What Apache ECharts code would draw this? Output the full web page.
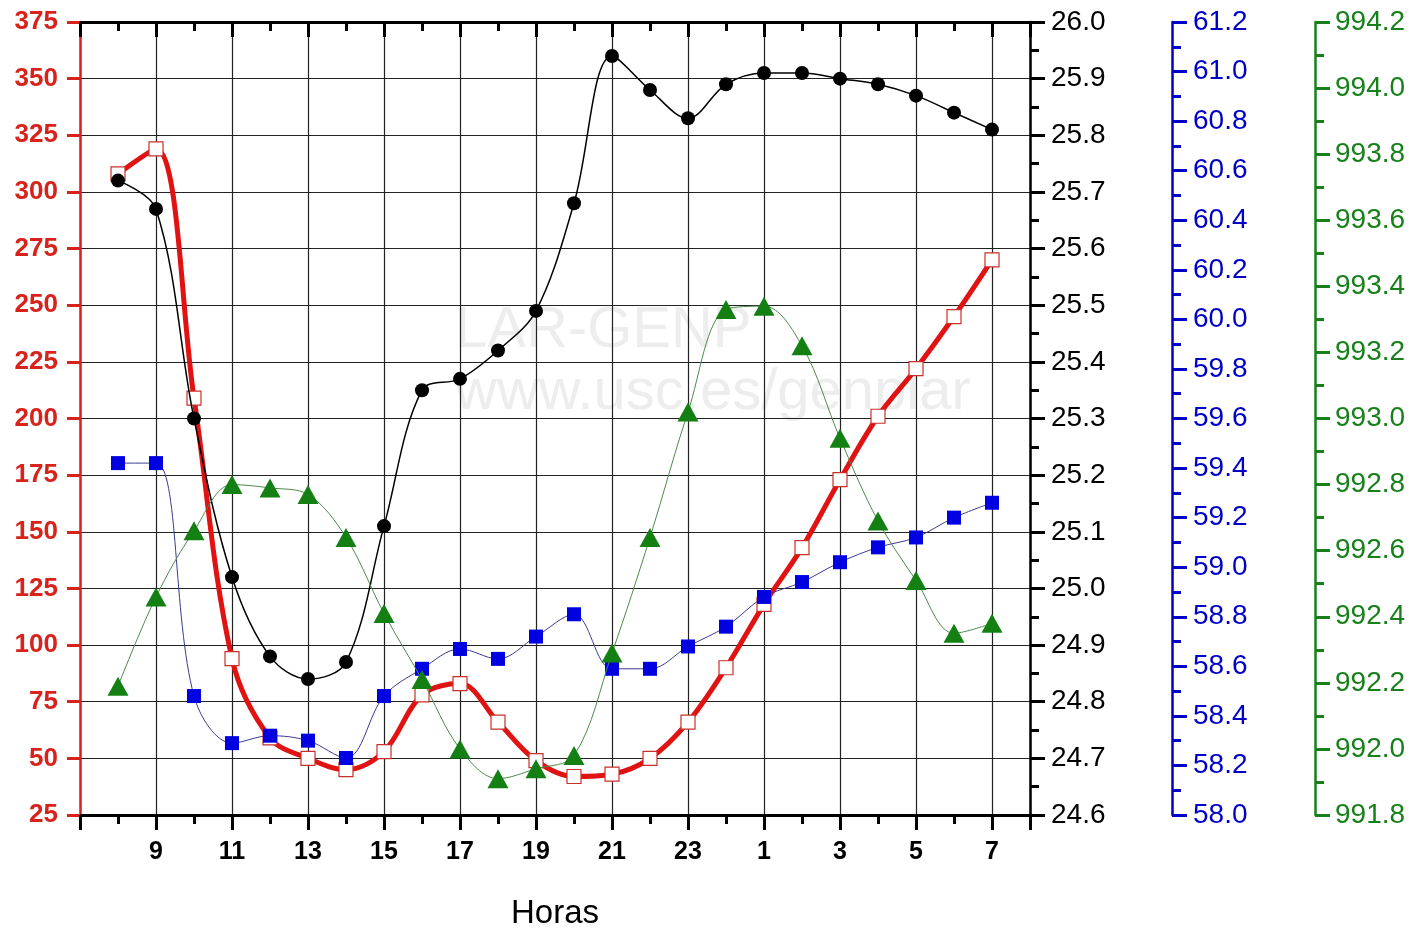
<!DOCTYPE html>
<html>
<head>
<meta charset="utf-8">
<script src="https://cdn.jsdelivr.net/npm/echarts@6/dist/echarts.min.js"></script>
<style>
html,body{margin:0;padding:0;background:#fff;}
#chart{width:1414px;height:931px;}
</style>
</head>
<body>
<div id="chart"></div>
<script>
// Hours of the day (from 8 h to 7 h of the next day)
const horas = [8,9,10,11,12,13,14,15,16,17,18,19,20,21,22,23,0,1,2,3,4,5,6,7];
// Red series (left axis)
const rojo = [308,319,209,94,59,50,45,53,78,83,66,49,42,43,50,66,90,118,143,173,201,222,245,270];
// Black series (right axis)
const negro = [25.72,25.67,25.30,25.02,24.88,24.84,24.87,25.11,25.35,25.37,25.42,25.49,25.68,25.94,25.88,25.83,25.89,25.91,25.91,25.90,25.89,25.87,25.84,25.81];
// Blue series (blue axis)
const azul = [59.42,59.42,58.48,58.29,58.32,58.30,58.23,58.48,58.59,58.67,58.63,58.72,58.81,58.59,58.59,58.68,58.76,58.88,58.94,59.02,59.08,59.12,59.20,59.26];
// Green series (green axis)
const verde = [992.19,992.46,992.66,992.80,992.79,992.77,992.64,992.41,992.21,992.00,991.91,991.94,991.98,992.29,992.64,993.02,993.33,993.34,993.22,992.94,992.69,992.51,992.35,992.38];

// x position = hours elapsed since 7 h
const xs = horas.map((h) => (h - 7 + 24) % 24 === 0 ? 24 : (h - 7 + 24) % 24);
const pairs = (arr) => arr.map((v, i) => [xs[i], v]);

const FONT = 'Liberation Sans, Arial, sans-serif';
const RED = '#d8231c';
const BLUE = '#0000c8';
const GREEN = '#17801a';

const chart = echarts.init(document.getElementById('chart'), null, {renderer: 'canvas'});

function hourLabel(v) {
  if (v <= 0 || v >= 25) return '';
  return String((v + 7) % 24);
}

chart.setOption({
  animation: false,
  backgroundColor: '#fff',
  grid: {left: 80, right: 384, top: 22, bottom: 116, containLabel: false, outerBoundsMode: 'none'},
  graphic: [
    {type: 'text', left: 455, top: 302, z: -10, silent: true,
     style: {text: 'LAR-GENP', font: '58px ' + FONT, fill: '#ededed'}},
    {type: 'text', left: 455, top: 364, z: -10, silent: true,
     style: {text: 'www.usc.es/genplar', font: '58px ' + FONT, fill: '#ededed'}}
  ],
  xAxis: [
    {
      type: 'value', position: 'bottom', min: 0, max: 25, interval: 2,
      name: 'Horas', nameLocation: 'middle', nameGap: 82,
      nameTextStyle: {fontFamily: FONT, fontSize: 33, color: '#000'},
      axisLine: {show: true, onZero: false, lineStyle: {color: '#000', width: 3}},
      axisTick: {show: true, inside: false, length: 15, lineStyle: {color: '#000', width: 3}},
      minorTick: {show: true, splitNumber: 2, length: 9, lineStyle: {color: '#000', width: 3}},
      axisLabel: {margin: 25, fontFamily: FONT, fontSize: 25, fontWeight: 'bold', color: '#000', formatter: hourLabel},
      splitLine: {show: true, lineStyle: {color: '#222', width: 1.2}},
      minorSplitLine: {show: false}
    },
    {
      type: 'value', position: 'top', min: 0, max: 25, interval: 2,
      axisLine: {show: true, onZero: false, lineStyle: {color: '#000', width: 3}},
      axisTick: {show: true, inside: true, length: 15, lineStyle: {color: '#000', width: 3}},
      minorTick: {show: true, splitNumber: 2, length: 9, lineStyle: {color: '#000', width: 3}},
      axisLabel: {show: false},
      splitLine: {show: false}
    }
  ],
  yAxis: [
    {
      type: 'value', position: 'left', min: 25, max: 375, interval: 25,
      axisLine: {show: true, onZero: false, lineStyle: {color: RED, width: 2.5}},
      axisTick: {show: true, inside: false, length: 13, lineStyle: {color: RED, width: 3}},
      axisLabel: {margin: 22, fontFamily: FONT, fontSize: 26, fontWeight: 'bold', color: RED},
      splitLine: {show: true, lineStyle: {color: '#222', width: 1.2}}
    },
    {
      type: 'value', position: 'right', offset: 0, min: 24.6, max: 26.0, interval: 0.1,
      axisLine: {show: true, onZero: false, lineStyle: {color: '#000', width: 2.5}},
      axisTick: {show: true, inside: false, length: 15, lineStyle: {color: '#000', width: 3}},
      minorTick: {show: true, splitNumber: 2, length: 9, lineStyle: {color: '#000', width: 3}},
      axisLabel: {margin: 21, fontFamily: FONT, fontSize: 28, color: '#000', formatter: (v) => v.toFixed(1)},
      splitLine: {show: false}
    },
    {
      type: 'value', position: 'right', offset: 142, min: 58.0, max: 61.2, interval: 0.2,
      axisLine: {show: true, onZero: false, lineStyle: {color: BLUE, width: 2.5}},
      axisTick: {show: true, inside: false, length: 15, lineStyle: {color: BLUE, width: 3}},
      minorTick: {show: true, splitNumber: 2, length: 9, lineStyle: {color: BLUE, width: 3}},
      axisLabel: {margin: 21, fontFamily: FONT, fontSize: 28, color: BLUE, formatter: (v) => v.toFixed(1)},
      splitLine: {show: false}
    },
    {
      type: 'value', position: 'right', offset: 285, min: 991.8, max: 994.2, interval: 0.2,
      axisLine: {show: true, onZero: false, lineStyle: {color: GREEN, width: 2.5}},
      axisTick: {show: true, inside: false, length: 15, lineStyle: {color: GREEN, width: 3}},
      minorTick: {show: true, splitNumber: 2, length: 9, lineStyle: {color: GREEN, width: 3}},
      axisLabel: {margin: 20, fontFamily: FONT, fontSize: 28, color: GREEN, formatter: (v) => v.toFixed(1)},
      splitLine: {show: false}
    }
  ],
  series: [
    {
      name: 'rojo', type: 'line', xAxisIndex: 0, yAxisIndex: 0, data: pairs(rojo),
      smooth: 0.35, symbol: 'rect', symbolSize: 14,
      lineStyle: {color: '#e01212', width: 5},
      itemStyle: {color: '#fff', borderColor: '#c8302a', borderWidth: 1.2},
      z: 2
    },
    {
      name: 'negro', type: 'line', xAxisIndex: 0, yAxisIndex: 1, data: pairs(negro),
      smooth: 0.35, symbol: 'circle', symbolSize: 14,
      lineStyle: {color: '#000', width: 1.5},
      itemStyle: {color: '#000', borderWidth: 0},
      z: 3
    },
    {
      name: 'azul', type: 'line', xAxisIndex: 0, yAxisIndex: 2, data: pairs(azul),
      smooth: 0.35, symbol: 'rect', symbolSize: 14,
      lineStyle: {color: '#3a3a90', width: 1},
      itemStyle: {color: '#0000e0', borderWidth: 0},
      z: 4
    },
    {
      name: 'verde', type: 'line', xAxisIndex: 0, yAxisIndex: 3, data: pairs(verde),
      smooth: 0.35, symbol: 'triangle', symbolSize: [21, 19],
      lineStyle: {color: '#4d8a4d', width: 1},
      itemStyle: {color: '#148014', borderWidth: 0},
      z: 5
    }
  ]
});
</script>
</body>
</html>
